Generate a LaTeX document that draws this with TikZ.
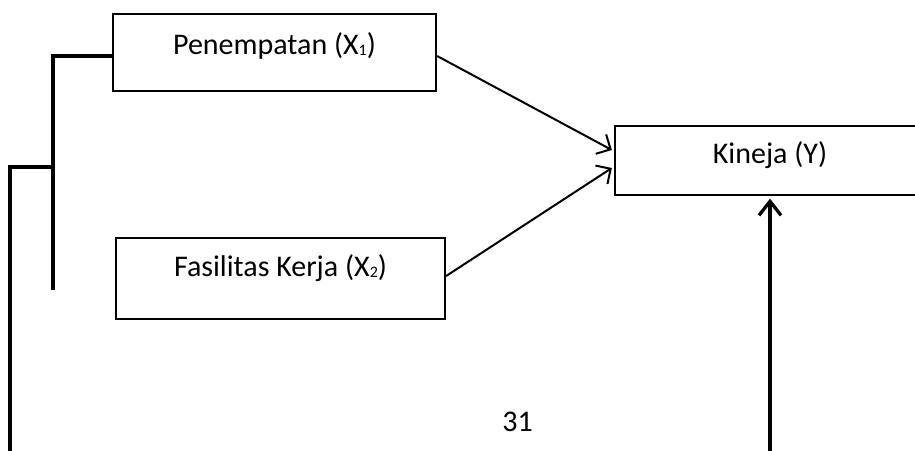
\documentclass[tikz,border=0pt]{standalone}
\usepackage{fontspec}
\setmainfont{Carlito}
\usetikzlibrary{arrows.meta}
\newcommand{\subdig}[1]{\raisebox{-1.5pt}{\fontsize{16}{16}\selectfont #1}}
\tikzset{
  box/.style={draw, line width=2.3pt, inner sep=0pt, text height=20pt, text depth=#1,
    font=\fontsize{30}{34}\selectfont},
  thinarrow/.style={line width=2pt, -{Straight Barb[length=11pt,width=22pt,line width=2pt]}},
  thickarrow/.style={line width=3.3pt, -{Straight Barb[length=14pt,width=22pt,line width=3.3pt]}},
  bracket/.style={line width=3.5pt}}
\begin{document}
\begin{tikzpicture}[x=1pt,y=-1pt]
\clip (0,0) rectangle (915,450);
\fill[white] (0,0) rectangle (915,450);
\node[box=17pt, minimum width=323pt, minimum height=77pt] (b1) at (274.5,52.5) {Penempatan (X\subdig{1})};
\node[box=24pt, minimum width=329pt, minimum height=81pt] (b2) at (280.5,278.3) {Fasilitas Kerja (X\subdig{2})};
\node[box=14pt, minimum width=310pt, minimum height=69pt] (k) at (770,160.5) {Kineja (Y)};
\node[font=\fontsize{30}{34}\selectfont, inner sep=0pt] (pg) at (517.5,422) {31};
\coordinate (j1) at (53,56);
\coordinate (j1b) at (53,290);
\coordinate (j2) at (53,167);
\coordinate (l2) at (10,167);
\coordinate (l2b) at (10,460);
\coordinate (vb) at (770,460);
\draw[bracket] ([yshift=-3.5pt]b1.west) -- (j1) -- (j1b);
\draw[bracket] (j2) -- (l2) -- (l2b);
\draw[thinarrow] ([yshift=-3.5pt]b1.east) -- ([xshift=-2pt,yshift=10.5pt]k.west);
\draw[thinarrow] ([yshift=2.3pt]b2.east) -- ([xshift=-2pt,yshift=-7.5pt]k.west);
\draw[thickarrow] (vb) -- ([yshift=-2.5pt]k.south);
\end{tikzpicture}
\end{document}
